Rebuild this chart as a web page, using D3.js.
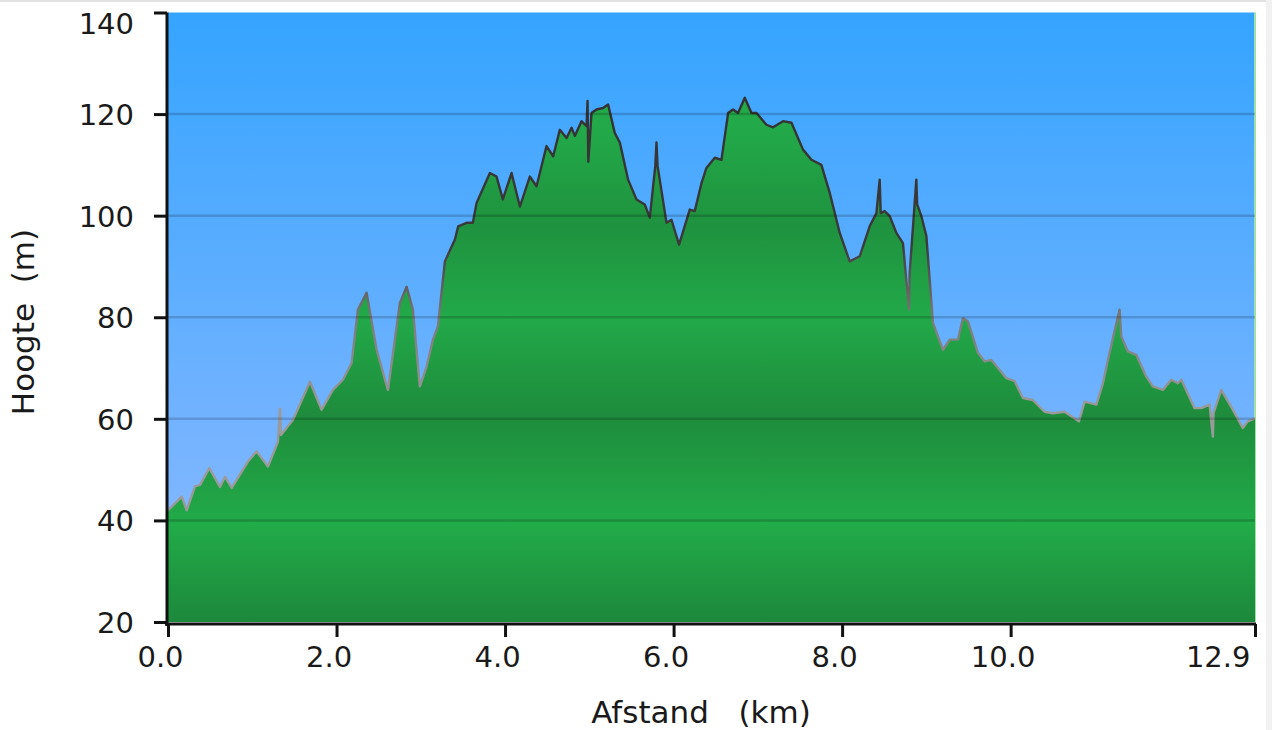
<!DOCTYPE html>
<html>
<head>
<meta charset="utf-8">
<script src="https://cdn.jsdelivr.net/npm/d3@7"></script>
<style>
  html, body { margin: 0; padding: 0; background: #fff; }
  svg { display: block; }
</style>
</head>
<body>
<svg id="chart" width="1272" height="730"></svg>
<script>
// ---- data ----
const distKm = [0.00,0.044,0.163,0.222,0.320,0.380,0.490,0.617,0.676,0.756,0.949,1.052,1.186,1.305,1.329,1.341,1.483,1.685,1.823,1.957,2.076,2.179,2.254,2.357,2.476,2.610,2.752,2.832,2.906,2.989,3.069,3.144,3.203,3.286,3.405,3.444,3.543,3.618,3.662,3.820,3.899,3.974,4.077,4.176,4.294,4.374,4.492,4.571,4.650,4.730,4.789,4.828,4.907,4.967,4.979,4.988,5.026,5.085,5.164,5.223,5.302,5.362,5.460,5.560,5.658,5.718,5.783,5.797,5.810,5.916,5.975,6.065,6.192,6.251,6.331,6.390,6.489,6.568,6.647,6.706,6.765,6.845,6.924,6.984,7.102,7.180,7.299,7.399,7.536,7.636,7.754,7.853,7.972,8.090,8.209,8.327,8.407,8.446,8.458,8.505,8.565,8.644,8.722,8.794,8.802,8.881,8.891,8.941,9.000,9.078,9.197,9.276,9.375,9.434,9.493,9.612,9.692,9.771,9.850,9.949,10.047,10.146,10.265,10.403,10.502,10.641,10.720,10.810,10.878,11.017,11.095,11.174,11.293,11.313,11.391,11.491,11.610,11.688,11.807,11.906,11.985,12.025,12.183,12.262,12.361,12.400,12.408,12.499,12.637,12.755,12.814,12.9];
const elevM = [42,42.7,44.7,42,46.7,47,50.3,46.6,48.6,46.4,51.6,53.6,50.6,55.5,62,56.8,59.8,67.3,61.8,65.7,67.7,71,81.5,84.8,73.6,65.7,82.8,86,81.5,66.4,70.3,75.6,78.2,91,95.3,97.9,98.6,98.6,102.5,108.4,107.7,103.2,108.4,101.8,107.7,105.8,113.7,111.7,116.9,115.3,117.3,115.7,118.6,117.6,122.6,110.6,120.2,120.9,121.2,121.9,116.3,114.4,107.1,103.2,102.2,99.6,109.8,114.4,109.8,98.6,99.2,94.3,101.2,100.9,106.4,109.4,111.4,111,120.2,120.9,120.2,123.2,120.2,120.2,117.9,117.4,118.6,118.3,113,111,110,104.5,96.6,91,92,97.9,100.5,107.1,100.5,100.9,99.9,96.6,94.6,81.5,88.7,107.1,102.2,99.9,96,78.9,73.6,75.6,75.6,79.8,79.2,73,71.3,71.6,70,68,67.4,64.1,63.7,61.4,61.1,61.4,60.5,59.5,63.4,62.8,67,73,81.5,76.2,73.3,72.6,68.3,66.4,65.7,67.7,67,67.7,62.1,62.1,62.8,56.5,61.1,65.7,61.8,58.2,59.5,60.1];
const xTickValues = [0, 2, 4, 6, 8, 10, 12.9];
const xTickLabels = ["0.0", "2.0", "4.0", "6.0", "8.0", "10.0", "12.9"];
const yTickValues = [20, 40, 60, 80, 100, 120, 140];
const yTickLabels = ["20", "40", "60", "80", "100", "120", "140"];
const xTitle = "Afstand\u00a0\u00a0\u00a0(km)";
const yTitle = "Hoogte\u00a0\u00a0(m)";

const points = distKm.map((d, i) => ({ d, v: elevM[i] }));

// ---- layout ----
const svg = d3.select("#chart");
const plotL = 168, plotR = 1255, plotT = 12.5, plotB = 622;
const x = d3.scaleLinear().domain([0, 12.9]).range([plotL, plotR]);
const y = d3.scaleLinear().domain([20, 140]).range([plotB, plotT]);
const font = "'DejaVu Sans', Verdana, sans-serif";

// page frame
svg.append("rect").attr("x", 0).attr("y", 0).attr("width", 1272).attr("height", 2).attr("fill", "#e2e2e2");
svg.append("rect").attr("x", 1266).attr("y", 0).attr("width", 6).attr("height", 730).attr("fill", "#f1f1f1");

const defs = svg.append("defs");
const bg = defs.append("linearGradient").attr("id", "bg")
  .attr("gradientUnits", "userSpaceOnUse").attr("x1", 0).attr("x2", 0).attr("y1", plotT).attr("y2", plotB);
bg.append("stop").attr("offset", "0%").attr("stop-color", "#35a4ff");
bg.append("stop").attr("offset", "100%").attr("stop-color", "#90baff");

const gr = defs.append("linearGradient").attr("id", "green")
  .attr("gradientUnits", "userSpaceOnUse").attr("x1", 0).attr("x2", 0).attr("y1", plotT).attr("y2", plotB);
[[0, "#24b04c"], [0.2, "#22a848"], [0.35, "#1f923f"], [0.5, "#22a949"], [0.66, "#1e8c3c"], [0.84, "#22ab49"], [1, "#1d883b"]]
  .forEach(([o, c]) => gr.append("stop").attr("offset", o).attr("stop-color", c));

const ln = defs.append("linearGradient").attr("id", "lineg")
  .attr("gradientUnits", "userSpaceOnUse").attr("x1", 0).attr("x2", 0).attr("y1", plotT).attr("y2", plotB);
[[0, "#2e2e2e"], [0.38, "#3a3a3a"], [0.5, "#7a7a7a"], [0.65, "#9a9a9a"], [1, "#9a9a9a"]]
  .forEach(([o, c]) => ln.append("stop").attr("offset", o).attr("stop-color", c));

// plot background
svg.append("rect").attr("x", plotL).attr("y", plotT).attr("width", plotR - plotL).attr("height", plotB - plotT)
  .attr("fill", "url(#bg)");
svg.append("line").attr("x1", plotR).attr("x2", plotR).attr("y1", plotT).attr("y2", plotB)
  .attr("stroke", "#9fe0a8").attr("stroke-width", 2);

// area
const area = d3.area().x(p => x(p.d)).y0(y(20)).y1(p => y(p.v)).curve(d3.curveLinear);
svg.append("path").datum(points).attr("d", area).attr("fill", "url(#green)");
const line = d3.line().x(p => x(p.d)).y(p => y(p.v));
svg.append("path").datum(points).attr("d", line).attr("fill", "none")
  .attr("stroke", "url(#lineg)").attr("stroke-width", 2.4).attr("stroke-linejoin", "round");

// grid lines
svg.append("g").selectAll("line").data(yTickValues.filter(v => v > 20 && v < 140)).join("line")
  .attr("x1", plotL).attr("x2", plotR).attr("y1", d => y(d)).attr("y2", d => y(d))
  .attr("stroke", "rgba(0,0,0,0.17)").attr("stroke-width", 2.5);

// y axis
const yAxis = d3.axisLeft(y).tickValues(yTickValues).tickSize(13).tickSizeOuter(0)
  .tickFormat((d, i) => yTickLabels[i]);
const gy = svg.append("g").attr("transform", `translate(${plotL - 1},0)`).call(yAxis);
gy.select(".domain").attr("stroke", "#111").attr("stroke-width", 3).attr("d", `M0,${plotT}V${plotB + 4}`);
gy.selectAll(".tick line").attr("stroke", "#111").attr("stroke-width", 3);
gy.selectAll(".tick text").attr("font-family", font).attr("font-size", 29).attr("fill", "#1a1a1a")
  .attr("x", -33).attr("dy", "0.36em");
gy.selectAll(".tick").filter(d => d === 140).select("text").attr("dy", "0.74em");

// x axis
const xAxis = d3.axisBottom(x).tickValues(xTickValues).tickSize(13).tickSizeOuter(0)
  .tickFormat((d, i) => xTickLabels[i]);
const gx = svg.append("g").attr("transform", `translate(0,${plotB + 2})`).call(xAxis);
gx.select(".domain").attr("stroke", "#111").attr("stroke-width", 3).attr("d", `M${plotL - 3},0H${plotR + 1}`);
gx.selectAll(".tick line").attr("stroke", "#111").attr("stroke-width", 3);
gx.selectAll(".tick text").attr("font-family", font).attr("font-size", 29).attr("fill", "#1a1a1a")
  .attr("y", 22).attr("dy", "0.71em").attr("x", -8);
gx.selectAll(".tick").filter(d => d === 12.9).select("text").attr("text-anchor", "end").attr("x", -5);

// titles
svg.append("text").attr("x", 701).attr("y", 723).attr("text-anchor", "middle")
  .attr("font-family", font).attr("font-size", 31).attr("fill", "#1a1a1a").text(xTitle);
svg.append("text").attr("transform", "translate(34,322) rotate(-90)").attr("text-anchor", "middle")
  .attr("font-family", font).attr("font-size", 31).attr("fill", "#1a1a1a").text(yTitle);
</script>
</body>
</html>
